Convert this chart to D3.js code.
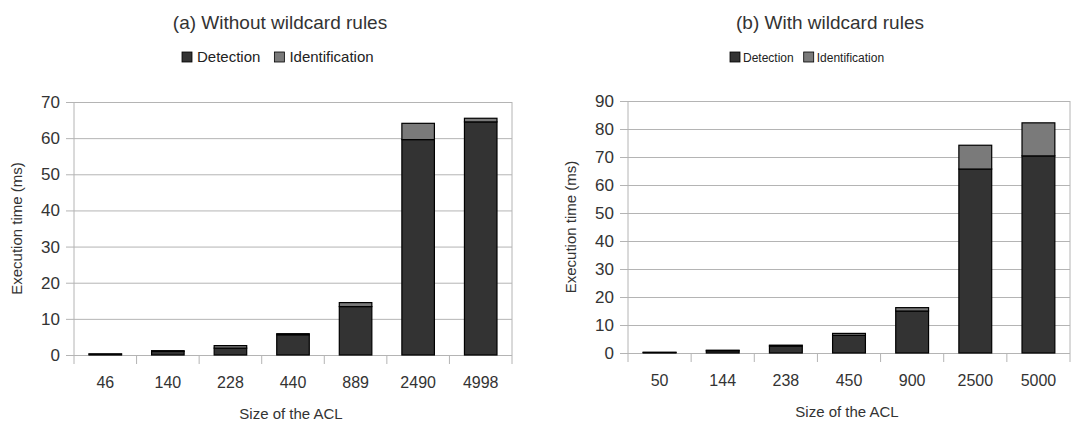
<!DOCTYPE html>
<html>
<head>
<meta charset="utf-8">
<script src="https://cdn.jsdelivr.net/npm/d3@7"></script>
<style>
  body { margin: 0; background: #fff; }
  svg { display: block; font-family: 'Liberation Sans', Arial, sans-serif; }
  .y-ticks .tick text { fill: #333; font-size: 17px; }
  .x-ticks .tick text { fill: #333; font-size: 16px; }
</style>
</head>
<body>
<div id="chart"></div>
<script>
const seriesNames = ['Detection', 'Identification'];
const colors = ['#333333', '#7a7a7a'];

// (a) Without wildcard rules
const sizesA = ['46', '140', '228', '440', '889', '2490', '4998'];
const detectionA = [0.25, 1.0, 1.9, 5.6, 13.4, 59.6, 64.5];
const identificationA = [0.05, 0.2, 0.7, 0.3, 1.1, 4.5, 1.0];
const ticksA = [0, 10, 20, 30, 40, 50, 60, 70];

// (b) With wildcard rules
const sizesB = ['50', '144', '238', '450', '900', '2500', '5000'];
const detectionB = [0.2, 0.8, 2.5, 6.3, 15.0, 65.7, 70.4];
const identificationB = [0.05, 0.2, 0.3, 0.7, 1.2, 8.5, 11.8];
const ticksB = [0, 10, 20, 30, 40, 50, 60, 70, 80, 90];

const svg = d3.select('#chart').append('svg')
    .attr('width', 1073)
    .attr('height', 423);

function drawPanel(opts) {
    const { left, right, top, bottom, title, sizes, det, ident, ticks, titleX, legend } = opts;
    const width = right - left;
    const height = bottom - top;

    const g = svg.append('g').attr('transform', `translate(${left},${top})`);

    const x = d3.scaleBand().domain(sizes).range([0, width]).paddingInner(0.48).paddingOuter(0.24);
    const y = d3.scaleLinear().domain([0, d3.max(ticks)]).range([height, 0]);

    // Gridlines + y ticks
    g.append('g')
        .attr('class', 'y-ticks')
        .attr('transform', 'translate(-8,0)')
        .call(d3.axisLeft(y).tickValues(ticks).tickSize(-width - 8).tickPadding(6))
        .call(a => a.select('.domain').remove())
        .call(a => a.selectAll('.tick line').attr('stroke', '#b4b4b4').attr('x1', 0));

    // y axis line
    g.append('line')
        .attr('x1', 0).attr('x2', 0).attr('y1', 0).attr('y2', height + 9)
        .attr('stroke', '#b4b4b4');

    // x axis category boundaries
    g.append('g')
        .selectAll('line')
        .data(d3.range(1, sizes.length + 1))
        .join('line')
        .attr('x1', i => i * width / sizes.length)
        .attr('x2', i => i * width / sizes.length)
        .attr('y1', height)
        .attr('y2', height + 9)
        .attr('stroke', '#b4b4b4');

    // right border
    g.append('line')
        .attr('x1', width).attr('x2', width).attr('y1', 0).attr('y2', height)
        .attr('stroke', '#b4b4b4');

    // x labels
    g.append('g')
        .attr('class', 'x-ticks')
        .attr('transform', `translate(0,${height})`)
        .call(d3.axisBottom(x).tickSize(0).tickPadding(21.5))
        .call(a => a.select('.domain').remove());

    // stacked bars
    const data = sizes.map((s, i) => ({ size: s, Detection: det[i], Identification: ident[i] }));
    const stacked = d3.stack().keys(seriesNames)(data);

    g.append('g')
        .selectAll('g')
        .data(stacked)
        .join('g')
        .attr('fill', (d, i) => colors[i])
        .selectAll('rect')
        .data(d => d)
        .join('rect')
        .attr('x', d => x(d.data.size))
        .attr('y', d => y(d[1]))
        .attr('width', x.bandwidth())
        .attr('height', d => y(d[0]) - y(d[1]))
        .attr('stroke', '#000')
        .attr('stroke-width', 1.2);

    // axis titles
    g.append('text')
        .attr('transform', 'rotate(-90)')
        .attr('x', -height / 2)
        .attr('y', -52)
        .attr('text-anchor', 'middle')
        .attr('font-size', 15)
        .attr('fill', '#333')
        .text('Execution time (ms)');

    g.append('text')
        .attr('x', width / 2 - 2)
        .attr('y', height + 64)
        .attr('text-anchor', 'middle')
        .attr('font-size', 15)
        .attr('fill', '#333')
        .text('Size of the ACL');

    // title
    svg.append('text')
        .attr('x', titleX)
        .attr('y', 29)
        .attr('text-anchor', 'middle')
        .attr('font-size', 19)
        .attr('fill', '#333')
        .text(title);

    // legend
    const lg = svg.append('g').attr('transform', `translate(${legend.x},52)`);
    let lx = 0;
    seriesNames.forEach((name, i) => {
        lg.append('rect')
            .attr('x', lx).attr('y', 0).attr('width', 10).attr('height', 10)
            .attr('fill', colors[i]).attr('stroke', '#000').attr('stroke-width', 0.8);
        const t = lg.append('text')
            .attr('x', lx + legend.offset).attr('y', 10)
            .attr('font-size', legend.size)
            .attr('fill', '#222')
            .text(name);
        lx += legend.offset + t.node().getComputedTextLength() + legend.gap;
    });
}

drawPanel({
    left: 74, right: 512, top: 102, bottom: 355,
    title: '(a) Without wildcard rules', titleX: 280,
    legend: { x: 182, size: 15, offset: 15, gap: 14 },
    sizes: sizesA, det: detectionA, ident: identificationA, ticks: ticksA
});

drawPanel({
    left: 628, right: 1070, top: 101, bottom: 353,
    title: '(b) With wildcard rules', titleX: 830,
    legend: { x: 730, size: 12, offset: 13, gap: 10 },
    sizes: sizesB, det: detectionB, ident: identificationB, ticks: ticksB
});
</script>
</body>
</html>
